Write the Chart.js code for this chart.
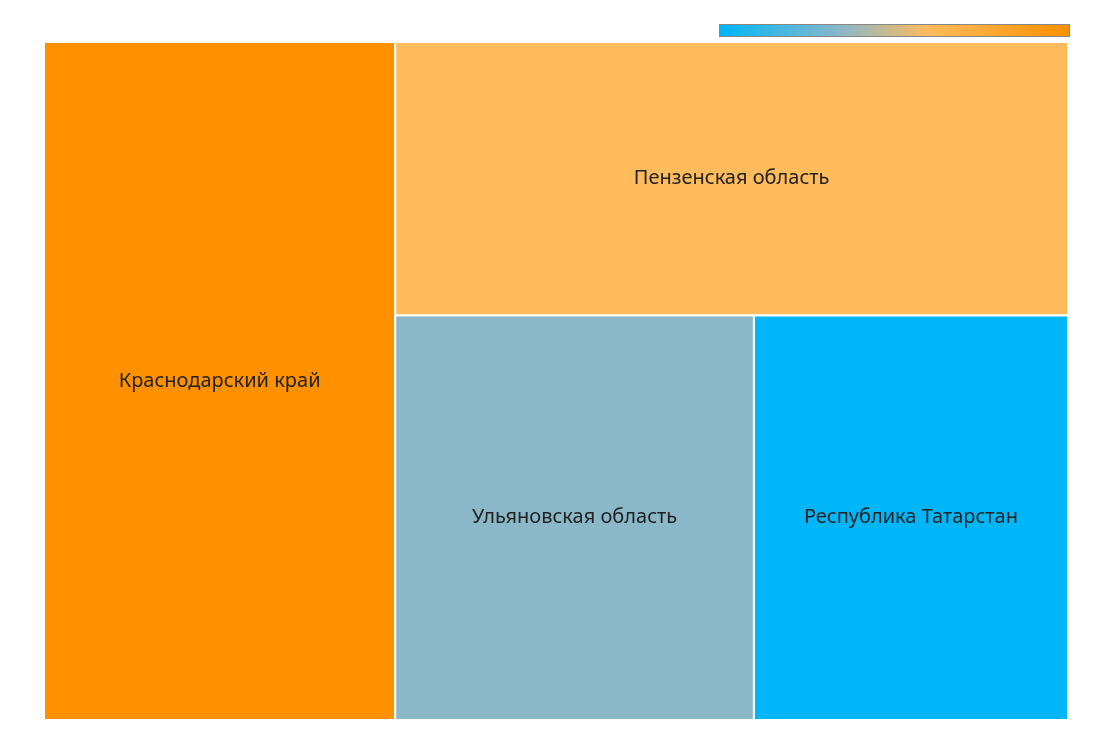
<!DOCTYPE html>
<html><head><meta charset="utf-8">
<script src="https://cdn.jsdelivr.net/npm/chart.js@4"></script>
<style>html,body{margin:0;padding:0;background:#fff}#w{width:1110px;height:745px}</style>
</head><body><div id="w"><canvas id="c"></canvas></div>
<script>
const categories = ["Краснодарский край","Пензенская область","Ульяновская область","Республика Татарстан"];
const values = [34.3, 26.5, 20.9, 18.3];
const colors = ["#FF9000","#FFBB5C","#8AB8C8","#00B6F8"];
const W = 1024, H = 678;

// Layout: each item takes a strip along the longer side until the last two, which share the remaining box.
function layout(vals){
  const out=[]; let x=0,y=0,w=W,h=H;
  let rest=vals.reduce((a,b)=>a+b,0);
  for(let i=0;i<vals.length;i++){
    const f=vals[i]/rest;
    if(i===vals.length-1){ out.push({x0:x,x1:x+w,y0:y,y1:y+h}); break; }
    if(i===vals.length-2){
      if(w>=h){ const cw=w*f; out.push({x0:x,x1:x+cw,y0:y,y1:y+h}); x+=cw; w-=cw; }
      else { const rh=h*f; out.push({x0:x,x1:x+w,y0:y,y1:y+rh}); y+=rh; h-=rh; }
    } else if(w>=h){ const cw=w*f; out.push({x0:x,x1:x+cw,y0:y,y1:y+h}); x+=cw; w-=cw; }
    else { const rh=h*f; out.push({x0:x,x1:x+w,y0:y,y1:y+rh}); y+=rh; h-=rh; }
    rest-=vals[i];
  }
  return out;
}
const rects = layout(values);

const treemap = {
  id:'treemap',
  afterDatasetsDraw(chart){
    const ctx=chart.ctx, xs=chart.scales.x, ys=chart.scales.y;
    rects.forEach((r,k)=>{
      const px0=xs.getPixelForValue(r.x0), px1=xs.getPixelForValue(r.x1);
      const py0=ys.getPixelForValue(r.y0), py1=ys.getPixelForValue(r.y1);
      ctx.fillStyle=colors[k]; ctx.fillRect(px0,py0,px1-px0,py1-py0);
      ctx.strokeStyle='#fff'; ctx.lineWidth=2; ctx.strokeRect(px0,py0,px1-px0,py1-py0);
      ctx.fillStyle='#222'; ctx.font='20px "Noto Sans", sans-serif';
      ctx.textAlign='center'; ctx.textBaseline='middle';
      ctx.fillText(categories[k],(px0+px1)/2,(py0+py1)/2);
    });
    const g=ctx.createLinearGradient(719,0,1069,0);
    g.addColorStop(0,'#00B6F8'); g.addColorStop(0.35,'#8AB8C8'); g.addColorStop(0.6,'#FFBB5C'); g.addColorStop(1,'#FF9000');
    ctx.fillStyle=g; ctx.fillRect(719,24,350,12);
    ctx.strokeStyle='#888'; ctx.lineWidth=1; ctx.strokeRect(719.5,24.5,350,12);
  }
};

new Chart(document.getElementById('c'),{
  type:'scatter',
  data:{datasets:[{data:[]}]},
  options:{
    responsive:true, maintainAspectRatio:false, animation:false,
    layout:{padding:{left:44,right:42,top:42,bottom:25}},
    plugins:{legend:{display:false},tooltip:{enabled:false}},
    scales:{
      x:{type:'linear',min:0,max:W,display:false},
      y:{type:'linear',min:0,max:H,reverse:true,display:false}
    }
  },
  plugins:[treemap]
});
</script></body></html>
